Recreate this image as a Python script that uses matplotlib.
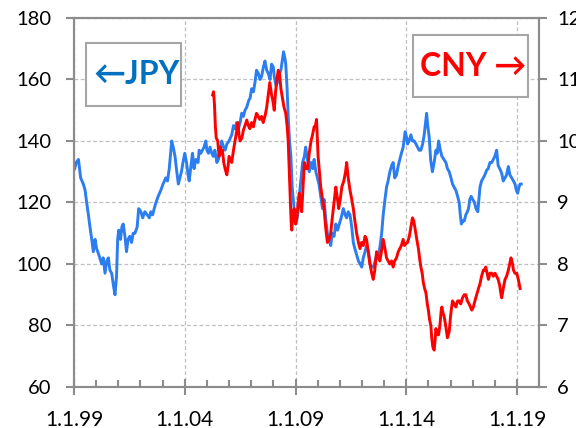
import numpy as np
import matplotlib
matplotlib.use("Agg")
import matplotlib.pyplot as plt
from matplotlib.patches import Rectangle
from matplotlib.ticker import MultipleLocator, FixedLocator

# JPY series (left axis), decimal years
jpy_t = [1999.03, 1999.1, 1999.2, 1999.3, 1999.42, 1999.5, 1999.57, 1999.65, 1999.72, 1999.8,
         1999.87, 1999.95, 2000.02, 2000.12, 2000.25, 2000.32, 2000.4, 2000.48, 2000.55, 2000.62,
         2000.7, 2000.78, 2000.85, 2000.92, 2000.97, 2001.02, 2001.1, 2001.16, 2001.22, 2001.3,
         2001.37, 2001.44, 2001.52, 2001.6, 2001.67, 2001.75, 2001.85, 2001.92, 2002.02, 2002.1,
         2002.2, 2002.3, 2002.4, 2002.47, 2002.55, 2002.62, 2002.7, 2002.8, 2002.92, 2003.02,
         2003.14, 2003.22, 2003.3, 2003.36, 2003.41, 2003.48, 2003.56, 2003.64, 2003.71, 2003.78,
         2003.85, 2003.92, 2004.0, 2004.08, 2004.15, 2004.2, 2004.28, 2004.35, 2004.42, 2004.5,
         2004.6, 2004.65, 2004.72, 2004.8, 2004.87, 2004.95, 2005.0, 2005.07, 2005.14, 2005.22,
         2005.29, 2005.36, 2005.45, 2005.52, 2005.6, 2005.67, 2005.75, 2005.82, 2005.9, 2006.0,
         2006.12, 2006.2, 2006.28, 2006.34, 2006.42, 2006.5, 2006.57, 2006.65, 2006.72, 2006.8,
         2006.88, 2006.95, 2007.02, 2007.1, 2007.17, 2007.24, 2007.32, 2007.4, 2007.47, 2007.55,
         2007.62, 2007.7, 2007.77, 2007.85, 2007.92, 2008.0, 2008.04, 2008.12, 2008.19, 2008.27,
         2008.34, 2008.4, 2008.46, 2008.52, 2008.56, 2008.62, 2008.67, 2008.73, 2008.79, 2008.85,
         2008.91, 2008.96, 2009.02, 2009.1, 2009.17, 2009.24, 2009.32, 2009.4, 2009.46, 2009.54,
         2009.62, 2009.7, 2009.78, 2009.84, 2009.92, 2009.99, 2010.06, 2010.14, 2010.22, 2010.29,
         2010.36, 2010.44, 2010.52, 2010.59, 2010.66, 2010.74, 2010.82, 2010.9, 2010.98, 2011.06,
         2011.16, 2011.24, 2011.31, 2011.38, 2011.46, 2011.54, 2011.61, 2011.68, 2011.76, 2011.84,
         2011.92, 2011.99, 2012.06, 2012.14, 2012.21, 2012.3, 2012.37, 2012.44, 2012.52, 2012.6,
         2012.66, 2012.74, 2012.82, 2012.89, 2012.96, 2013.04, 2013.11, 2013.18, 2013.26, 2013.34,
         2013.41, 2013.48, 2013.56, 2013.64, 2013.71, 2013.78, 2013.86, 2013.95, 2014.02, 2014.06,
         2014.13, 2014.21, 2014.28, 2014.36, 2014.44, 2014.51, 2014.58, 2014.66, 2014.74, 2014.81,
         2014.87, 2014.92, 2014.97, 2015.04, 2015.1, 2015.18, 2015.26, 2015.34, 2015.4, 2015.46,
         2015.54, 2015.61, 2015.7, 2015.79, 2015.86, 2015.94, 2016.02, 2016.09, 2016.16, 2016.24,
         2016.32, 2016.39, 2016.44, 2016.49, 2016.55, 2016.62, 2016.69, 2016.76, 2016.81, 2016.87,
         2016.93, 2017.0, 2017.08, 2017.15, 2017.23, 2017.28, 2017.33, 2017.4, 2017.48, 2017.55,
         2017.63, 2017.7, 2017.78, 2017.86, 2017.93, 2018.0, 2018.08, 2018.15, 2018.22, 2018.31,
         2018.38, 2018.46, 2018.53, 2018.61, 2018.68, 2018.76, 2018.84, 2018.91, 2018.97, 2019.03,
         2019.09, 2019.14, 2019.19]
jpy_v = [131, 133, 134, 128, 126, 124, 120, 116, 112, 108,
         104, 108, 105, 103, 100, 102, 97, 101, 102, 98,
         97, 93, 90, 96, 108, 111, 108, 112, 113, 109,
         104, 108, 109, 107, 110, 110, 112, 118, 117, 115,
         117, 116, 115, 117, 116, 118, 120, 122, 124, 126,
         128, 127, 131, 136, 140, 138, 135, 130, 126, 128,
         130, 133, 136, 133, 129, 127, 132, 136, 131, 134,
         133, 137, 136, 137, 138, 140, 137, 136, 138, 136,
         135, 137, 133, 134, 137, 140, 138, 137, 139, 140,
         142, 145, 144, 146, 144, 146, 149, 148, 150, 151,
         153, 154, 157, 156, 159, 163, 162, 160, 161, 164,
         166, 163, 162, 160, 165, 164, 161, 158, 159, 162,
         163, 166, 169, 167, 165, 157, 148, 140, 135, 125,
         120, 116, 113, 116, 122, 127, 133, 135, 138, 134,
         130, 133, 131, 134, 130, 128, 126, 122, 118, 121,
         115, 110, 108, 106, 110, 109, 113, 111, 113, 115,
         118, 116, 115, 117, 116, 112, 107, 105, 103, 101,
         100, 99, 102, 104, 106, 104, 100, 99, 99, 101,
         103, 102, 106, 110, 116, 121, 125, 127, 130, 132,
         133, 128, 129, 132, 134, 136, 138, 143, 141, 139,
         140, 142, 140, 140, 139, 138, 137, 137, 139, 142,
         146, 149, 145, 141, 134, 130, 133, 137, 136, 140,
         137, 135, 134, 133, 131, 130, 128, 126, 125, 124,
         122, 120, 116, 113, 114, 114, 116, 117, 118, 121,
         122, 121, 120, 118, 117, 121, 125, 127, 128, 129,
         130.5, 131, 133, 133, 134, 135, 137, 132, 131, 129.5,
         127, 128, 129, 131.7, 129, 128, 127, 126, 124, 123,
         125, 126, 126]

# CNY series (right axis)
cny_t = [2005.26, 2005.3, 2005.34, 2005.38, 2005.42, 2005.49, 2005.55, 2005.6, 2005.65, 2005.7,
         2005.76, 2005.82, 2005.9, 2005.96, 2006.0, 2006.06, 2006.12, 2006.2, 2006.27, 2006.34,
         2006.4, 2006.45, 2006.5, 2006.58, 2006.65, 2006.72, 2006.8, 2006.87, 2006.94, 2007.02,
         2007.1, 2007.17, 2007.24, 2007.32, 2007.39, 2007.47, 2007.54, 2007.62, 2007.7, 2007.77,
         2007.84, 2007.92, 2007.98, 2008.04, 2008.1, 2008.16, 2008.22, 2008.28, 2008.34, 2008.41,
         2008.48, 2008.56, 2008.62, 2008.67, 2008.72, 2008.76, 2008.8, 2008.83, 2008.88, 2008.94,
         2009.0, 2009.06, 2009.12, 2009.17, 2009.22, 2009.28, 2009.34, 2009.4, 2009.48, 2009.55,
         2009.62, 2009.7, 2009.77, 2009.84, 2009.9, 2009.95, 2010.02, 2010.08, 2010.14, 2010.22,
         2010.29, 2010.36, 2010.44, 2010.52, 2010.59, 2010.66, 2010.74, 2010.82, 2010.88, 2010.95,
         2011.02, 2011.09, 2011.18, 2011.26, 2011.31, 2011.38, 2011.46, 2011.54, 2011.61, 2011.68,
         2011.76, 2011.84, 2011.91, 2011.98, 2012.06, 2012.14, 2012.21, 2012.28, 2012.36, 2012.44,
         2012.51, 2012.58, 2012.66, 2012.74, 2012.81, 2012.88, 2012.96, 2013.04, 2013.11, 2013.18,
         2013.26, 2013.34, 2013.41, 2013.48, 2013.56, 2013.64, 2013.71, 2013.78, 2013.86, 2013.92,
         2013.98, 2014.06, 2014.14, 2014.21, 2014.28, 2014.34, 2014.43, 2014.5, 2014.55, 2014.6,
         2014.66, 2014.72, 2014.77, 2014.83, 2014.89, 2014.95, 2015.0, 2015.05, 2015.11, 2015.15,
         2015.2, 2015.26, 2015.3, 2015.34, 2015.4, 2015.46, 2015.52, 2015.58, 2015.61, 2015.66,
         2015.71, 2015.78, 2015.82, 2015.86, 2015.94, 2016.0, 2016.05, 2016.09, 2016.16, 2016.24,
         2016.32, 2016.39, 2016.46, 2016.54, 2016.62, 2016.69, 2016.76, 2016.84, 2016.9, 2016.96,
         2017.03, 2017.1, 2017.18, 2017.26, 2017.33, 2017.4, 2017.48, 2017.54, 2017.59, 2017.65,
         2017.71, 2017.78, 2017.86, 2017.93, 2018.01, 2018.08, 2018.15, 2018.22, 2018.28, 2018.31,
         2018.38, 2018.46, 2018.53, 2018.61, 2018.67, 2018.73, 2018.8, 2018.84, 2018.91, 2018.99,
         2019.06, 2019.14]
cny_v = [10.75, 10.8, 10.6, 10.25, 10.05, 10.0, 9.75, 9.9, 9.8, 9.85,
         9.65, 9.55, 9.45, 9.6, 9.75, 9.7, 9.65, 9.85, 10.0, 10.15,
         10.3, 10.1, 10.0, 10.05, 10.18, 10.25, 10.34, 10.25, 10.2, 10.3,
         10.23, 10.35, 10.45, 10.4, 10.35, 10.4, 10.3, 10.4, 10.55, 10.75,
         10.95, 10.75, 10.65, 10.5, 10.8, 11.0, 11.15, 11.1, 10.85, 10.7,
         10.55, 10.45, 10.25, 10.0, 9.5, 9.1, 8.7, 8.55, 8.8, 8.9,
         8.65, 8.75, 9.0, 9.15, 8.95, 8.85, 9.25, 9.65, 9.55, 9.55,
         9.8, 10.0, 10.1, 10.23, 10.25, 10.35, 9.75, 9.5, 9.25, 9.05,
         8.9, 8.6, 8.35, 8.4, 8.5, 8.75, 9.0, 9.25, 9.1, 8.9,
         9.05, 9.25, 9.35, 9.5, 9.65, 9.4, 9.2, 9.05, 8.9, 8.7,
         8.5, 8.35, 8.25, 8.35, 8.3, 8.45, 8.4, 8.2, 8.0, 7.85,
         7.75, 7.9, 8.2, 8.1, 8.05, 8.2, 8.4, 8.25, 8.1, 8.05,
         8.0, 8.05, 7.95, 8.05, 8.1, 8.2, 8.25, 8.3, 8.4, 8.3,
         8.33, 8.35, 8.45, 8.6, 8.75, 8.7, 8.5, 8.35, 8.25, 8.1,
         7.95, 7.85, 7.7, 7.6, 7.53, 7.35, 7.25, 7.1, 7.0, 6.8,
         6.65, 6.6, 6.75, 6.95, 6.85, 6.85, 7.0, 7.25, 7.3, 7.2,
         7.15, 7.0, 6.9, 6.8, 6.9, 7.15, 7.3, 7.4, 7.35, 7.3,
         7.4, 7.4, 7.35, 7.45, 7.5, 7.5, 7.4, 7.35, 7.3, 7.25,
         7.3, 7.4, 7.5, 7.6, 7.68, 7.8, 7.9, 7.9, 7.95, 7.85,
         7.75, 7.85, 7.85, 7.8, 7.85, 7.8, 7.75, 7.65, 7.5, 7.45,
         7.6, 7.75, 7.8, 7.9, 8.0, 8.1, 8.0, 7.9, 7.85, 7.85,
         7.75, 7.6]

x_ticks = [1999, 2004, 2009, 2014, 2019]
x_labels = ["1.1.99", "1.1.04", "1.1.09", "1.1.14", "1.1.19"]
left_ticks = [60, 80, 100, 120, 140, 160, 180]
right_ticks = [6, 7, 8, 9, 10, 11, 12]

plt.rcParams['font.family'] = ['Lato', 'DejaVu Sans']
axis_grey = "#8C8C8C"
grid_grey = "#BFBFBF"

fig = plt.figure(figsize=(5.76, 4.28), dpi=100)
ax = fig.add_axes([0.1285, 0.0958, 0.8075, 0.8622])
ax2 = ax.twinx()

ax.plot(jpy_t, jpy_v, color="#2B7DF0", lw=2.1, zorder=3)
ax2.plot(cny_t, cny_v, color="#FF0000", lw=2.1, zorder=3)

ax.set_xlim(1999, 2020)
ax.set_ylim(60, 180)
ax2.set_ylim(6, 12)

ax.xaxis.set_major_locator(FixedLocator(x_ticks))
ax.set_xticklabels(x_labels)
ax.xaxis.set_minor_locator(MultipleLocator(1))
ax.set_yticks(left_ticks)
ax2.set_yticks(right_ticks)

ax.grid(True, which='major', color=grid_grey, ls=(0, (3, 2)), lw=0.9)
ax.set_axisbelow(True)

for a in (ax, ax2):
    for s in a.spines.values():
        s.set_color(axis_grey)
        s.set_linewidth(1.5)

ax.tick_params(axis='x', which='major', direction='inout', length=11, width=1.5,
               color=axis_grey, labelsize=15, pad=11, labelcolor="black")
ax.tick_params(axis='x', which='minor', direction='in', length=5, width=1.5, color=axis_grey)
ax.tick_params(axis='y', direction='out', length=6, width=1.5, color=axis_grey,
               labelsize=14.5, pad=10)
ax2.tick_params(axis='y', direction='out', length=6, width=1.5, color=axis_grey,
                labelsize=14.5, pad=7)

# label boxes
ax.add_patch(Rectangle((0.026, 0.762), 0.204, 0.171, transform=ax.transAxes,
                       facecolor="white", edgecolor="#A6A6A6", lw=1.5, zorder=5))
ax.text(0.134, 0.846, "\u2190JPY", transform=ax.transAxes, ha="center", va="center",
        color="#0070C0", fontsize=23, fontweight="bold", zorder=6)
ax.add_patch(Rectangle((0.728, 0.786), 0.248, 0.168, transform=ax.transAxes,
                       facecolor="white", edgecolor="#A6A6A6", lw=1.5, zorder=5))
ax.text(0.858, 0.869, "CNY \u2192", transform=ax.transAxes, ha="center", va="center",
        color="#FF0000", fontsize=23, fontweight="bold", zorder=6)

fig.savefig("out.png", dpi=100)
